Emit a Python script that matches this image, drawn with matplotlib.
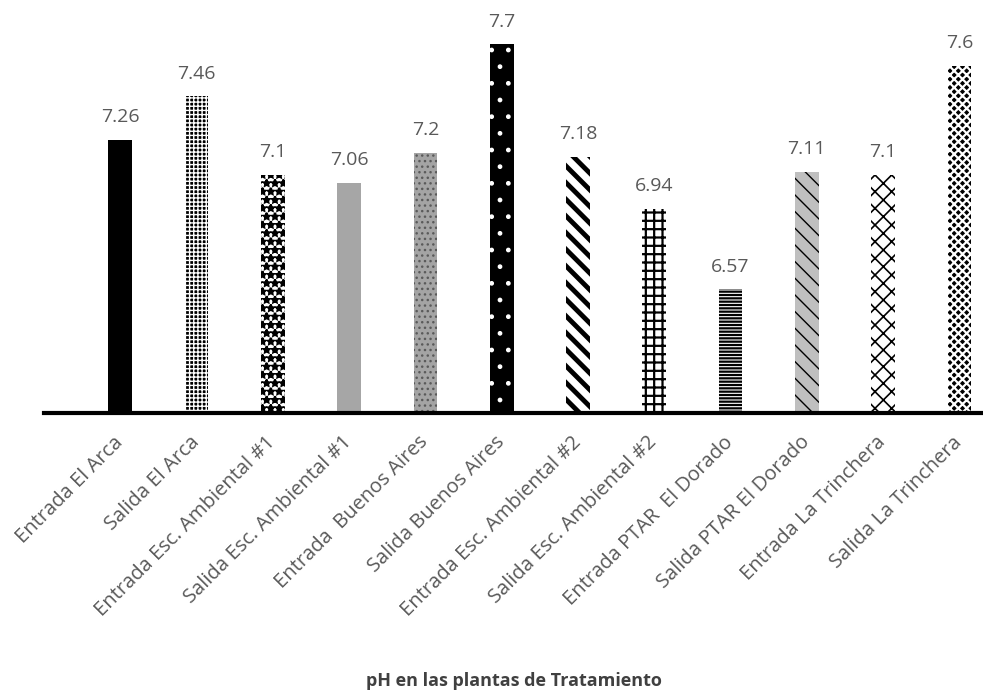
import matplotlib.pyplot as plt

plt.rcParams["font.family"] = ["Open Sans", "DejaVu Sans"]
plt.rcParams["hatch.linewidth"] = 1.6

categories = [
    "Entrada El Arca", "Salida El Arca", "Entrada Esc. Ambiental #1",
    "Salida Esc. Ambiental #1", "Entrada  Buenos Aires", "Salida Buenos Aires",
    "Entrada Esc. Ambiental #2", "Salida Esc. Ambiental #2", "Entrada PTAR  El Dorado",
    "Salida PTAR El Dorado", "Entrada La Trinchera", "Salida La Trinchera",
]
ph_values = [7.26, 7.46, 7.1, 7.06, 7.2, 7.7, 7.18, 6.94, 6.57, 7.11, 7.1, 7.6]
value_labels = ["7.26", "7.46", "7.1", "7.06", "7.2", "7.7", "7.18", "6.94", "6.57", "7.11", "7.1", "7.6"]

# (face colour, hatch colour, hatch, hatch width) per bar, imitating the Excel fill patterns
styles = [
    ("black", "black", None, 1.0),
    ("black", "white", "++++", 1.0),
    ("white", "black", "**", 1.6),
    ("#a6a6a6", "#a6a6a6", None, 1.0),
    ("#a4a4a4", "#5a5a5a", "...", 1.0),
    ("black", "white", ".", 1.0),
    ("white", "black", "\\\\", 3.5),
    ("white", "black", "++", 1.6),
    ("white", "black", "-----", 1.6),
    ("#bfbfbf", "black", "\\\\", 1.0),
    ("white", "black", "xx", 1.2),
    ("black", "white", "xxxx", 1.6),
]

fig = plt.figure(figsize=(9.83, 6.9), dpi=100)
ax = fig.add_axes([44 / 983, 1 - 413 / 690, 1 - 44 / 983, 413 / 690])

x = list(range(len(categories)))
for i, (v, (fc, hc, h, hw)) in enumerate(zip(ph_values, styles)):
    bars = ax.bar(i, v - 6.0, bottom=6.0, width=0.31, facecolor=fc, edgecolor=hc,
                  hatch=h, linewidth=0)
    if h and hasattr(bars[0], "set_hatch_linewidth"):
        bars[0].set_hatch_linewidth(hw)
    ax.annotate(value_labels[i], (i, v), xytext=(0, 10), textcoords="offset points",
                ha="center", va="bottom", fontsize=14, color="#595959")

ax.set_xlim(-1.0, 11.31)
ax.set_ylim(6.0, 7.905)
ax.set_yticks([])
ax.set_xticks(x)
ax.set_xticklabels(categories, rotation=45, ha="right", va="center",
                   rotation_mode="anchor", fontsize=14.5, color="#595959")
ax.tick_params(axis="x", length=0, pad=19)
for s in ["top", "right", "left"]:
    ax.spines[s].set_visible(False)
ax.spines["bottom"].set_linewidth(3)
ax.spines["bottom"].set_color("black")

fig.text(514 / 983, 1 - 681 / 690, "pH en las plantas de Tratamiento",
         ha="center", va="center", fontsize=13, fontweight="bold", color="#404040")

fig.savefig("out.png", dpi=100)
